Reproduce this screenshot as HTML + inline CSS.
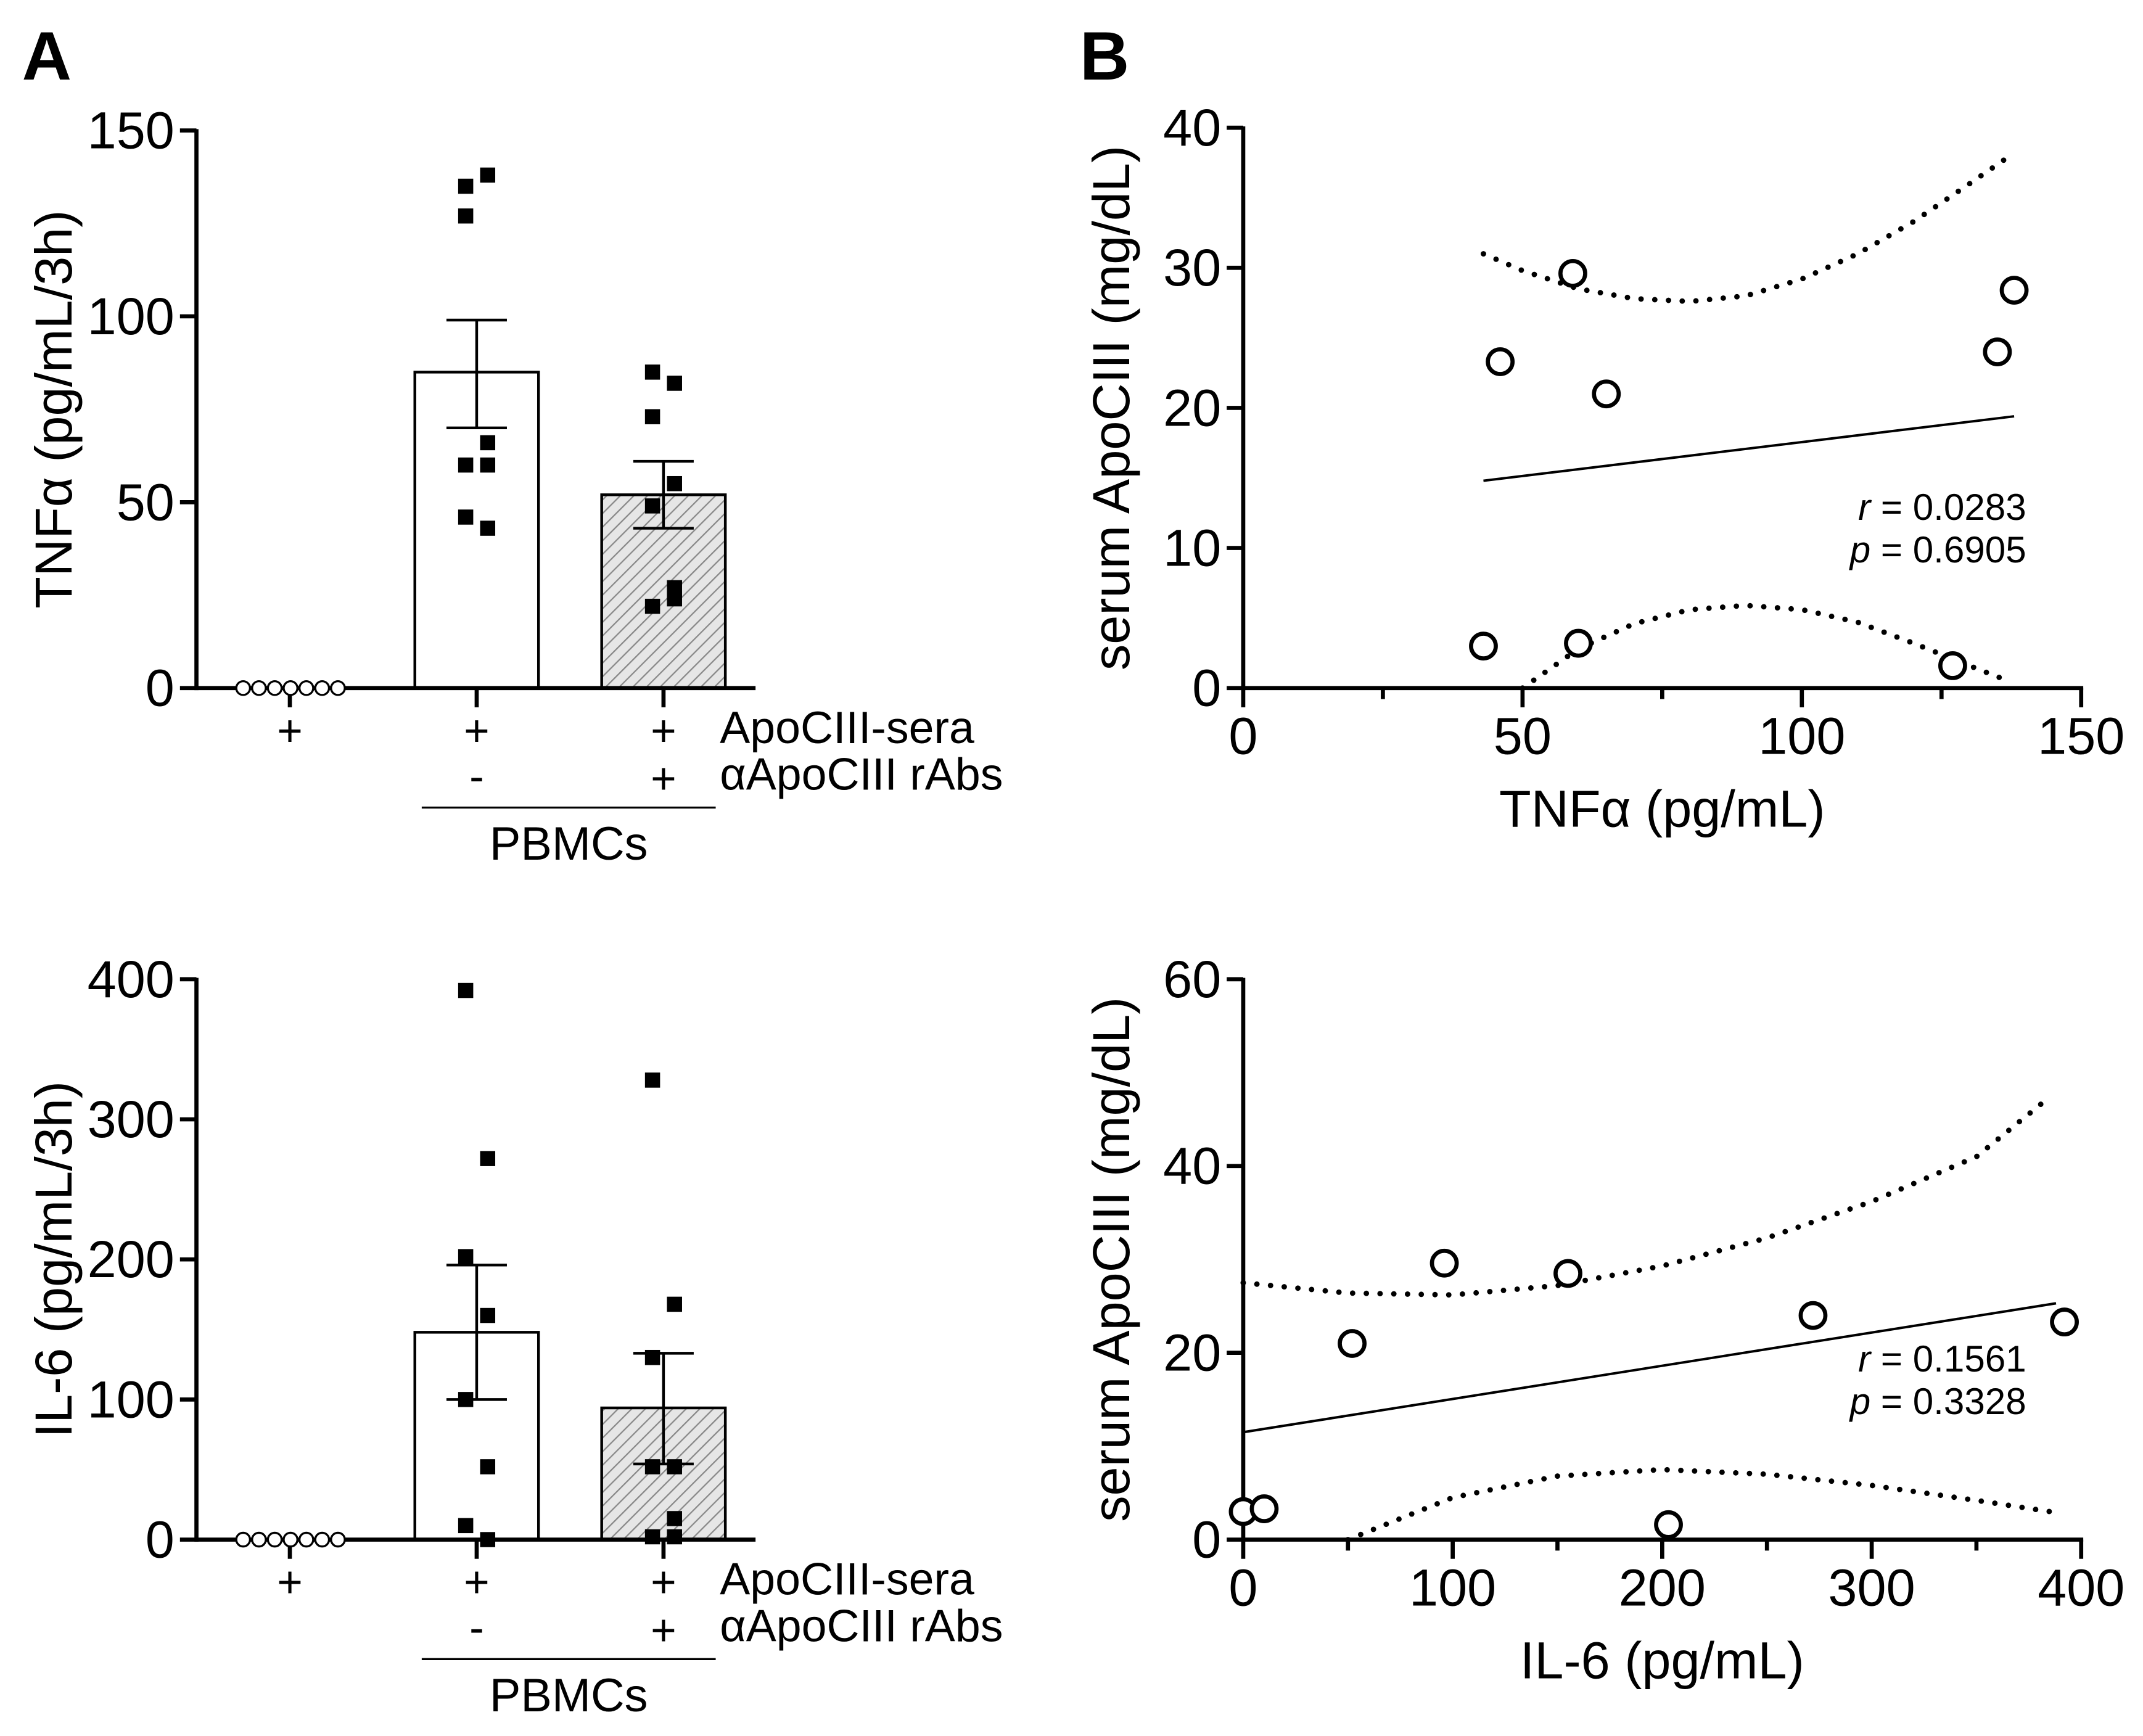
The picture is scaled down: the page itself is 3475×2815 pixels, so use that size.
<!DOCTYPE html>
<html><head><meta charset="utf-8"><style>html,body{margin:0;padding:0;background:#fff}svg{display:block}text{font-family:"Liberation Sans Narrow","Liberation Sans",sans-serif;fill:#000}</style></head>
<body>
<svg id="fig" width="3475" height="2815" viewBox="0 0 1560 1264" preserveAspectRatio="none" xmlns="http://www.w3.org/2000/svg">
<defs><pattern id="hatch" patternUnits="userSpaceOnUse" width="7" height="7" patternTransform="rotate(45)"><rect width="7" height="7" fill="#e6e6e6"/><line x1="0" y1="0" x2="0" y2="7" stroke="#888" stroke-width="2"/></pattern></defs>
</svg>
<script>
// ---- Panel A top data (TNFa) ----
const tnfMeans = [0, 85, 52];
const tnfErrLo = [0, 70, 43];
const tnfErrHi = [0, 99, 61];
const tnfPts1 = [135, 138, 127, 66, 60, 60, 46, 43];
const tnfPts2 = [85, 82, 73, 55, 49, 27, 22, 24];
const tnfTicks = [0, 50, 100, 150];
// ---- Panel A bottom data (IL-6) ----
const il6Means = [0, 148, 94];
const il6ErrLo = [0, 100, 54];
const il6ErrHi = [0, 196, 133];
const il6Pts1 = [392, 272, 202, 160, 100, 52, 10, 0];
const il6Pts2 = [328, 168, 130, 52, 52, 15, 2, 2];
const il6Ticks = [0, 100, 200, 300, 400];
// ---- Panel B top scatter ----
const sc1X = [43, 46, 59, 60, 65, 127, 135, 138];
const sc1Y = [3, 23.3, 29.6, 3.2, 21, 1.6, 24, 28.4];
const sc1Line = [[43, 14.8], [138, 19.4]];
const sc1Upper = [[43,31],[50,29.8],[60,28.5],[70,27.8],[80,27.6],[90,28],[100,29.2],[110,31],[120,33.3],[130,36],[138,38.2]];
const sc1Lower = [[50,0],[60,2.8],[70,4.6],[80,5.6],[90,5.9],[100,5.6],[110,4.7],[120,3.2],[130,1.6],[137,0.5]];
const sc1XTicks = [0, 50, 100, 150];
const sc1YTicks = [0, 10, 20, 30, 40];
// ---- Panel B bottom scatter ----
const sc2X = [0, 10, 52, 96, 155, 203, 272, 392];
const sc2Y = [3, 3.3, 21, 29.6, 28.5, 1.6, 24, 23.3];
const sc2Line = [[0, 11.5], [388, 25.3]];
const sc2Upper = [[0,27.5],[50,26.4],[100,26.2],[150,27.2],[200,29.3],[250,32.3],[300,36.2],[350,41],[385,47.4]];
const sc2Lower = [[50,0],[100,4.5],[150,6.8],[200,7.5],[250,7],[300,5.8],[350,4.2],[385,3]];
const sc2XTicks = [0, 100, 200, 300, 400];
const sc2YTicks = [0, 20, 40, 60];

const NS = "http://www.w3.org/2000/svg";
const svg = document.getElementById('fig');
function el(tag, attrs, parent, txt){const e=document.createElementNS(NS,tag);for(const k in attrs)e.setAttribute(k,attrs[k]);if(txt!==undefined)e.textContent=txt;(parent||svg).appendChild(e);return e;}

function barPanel(name, y0, yTop, maxV, ticks, means, lo, hi, p1, p2, ytitle){
  const g = el('g',{});
  
  
  const ax=143, xEnd=550;
  const Y=v=>y0-(v/maxV)*(y0-yTop);
  const cx=[211,347,483], bw=90;
  [1,2].forEach(i=>{
    const b=el('rect',{x:cx[i]-bw/2,y:Y(means[i]),width:bw,height:y0-Y(means[i]),fill:i==1?'#fff':'url(#hatch)',stroke:'#000','stroke-width':2},g);
    
    
  });
  [p1,p2].forEach((arr,k)=>{
    const c=cx[k+1];
    arr.forEach((v,j)=>{
      const off=(j%2==0?-1:1)*8;
      const r=el('rect',{x:c+off-5.5,y:Y(v)-5.5,width:11,height:11,fill:'#000'},g);
      
      
    });
  });
  [1,2].forEach(i=>{
    el('line',{x1:cx[i],x2:cx[i],y1:Y(lo[i]),y2:Y(hi[i]),stroke:'#000','stroke-width':2},g);
    el('line',{x1:cx[i]-22,x2:cx[i]+22,y1:Y(lo[i]),y2:Y(lo[i]),stroke:'#000','stroke-width':2},g);
    el('line',{x1:cx[i]-22,x2:cx[i]+22,y1:Y(hi[i]),y2:Y(hi[i]),stroke:'#000','stroke-width':2},g);
  });
  el('line',{x1:ax,x2:ax,y1:yTop-1,y2:y0+1.5,stroke:'#000','stroke-width':3},g);
  el('line',{x1:ax,x2:xEnd,y1:y0,y2:y0,stroke:'#000','stroke-width':3},g);
  ticks.forEach(t=>{
    el('line',{x1:ax-12,x2:ax,y1:Y(t),y2:Y(t),stroke:'#000','stroke-width':3},g);
    el('text',{x:ax-16,y:Y(t)+13,'text-anchor':'end','font-size':38},g,String(t));
  });
  cx.forEach(c=>el('line',{x1:c,x2:c,y1:y0,y2:y0+14,stroke:'#000','stroke-width':3},g));
  for(let j=0;j<7;j++) el('circle',{cx:177+j*11.5,cy:y0,r:5,fill:'#fff',stroke:'#000','stroke-width':1.5},g);
  el('text',{x:211,y:y0+42,'text-anchor':'middle','font-size':32},g,'+');
  el('text',{x:347,y:y0+42,'text-anchor':'middle','font-size':32},g,'+');
  el('text',{x:483,y:y0+42,'text-anchor':'middle','font-size':32},g,'+');
  el('text',{x:347,y:y0+75,'text-anchor':'middle','font-size':32},g,'-');
  el('text',{x:483,y:y0+77,'text-anchor':'middle','font-size':32},g,'+');
  el('text',{x:524,y:y0+40,'font-size':33},g,'ApoCIII-sera');
  el('text',{x:524,y:y0+74,'font-size':33},g,'\u03b1ApoCIII rAbs');
  el('line',{x1:307,x2:521,y1:y0+87,y2:y0+87,stroke:'#000','stroke-width':1.5},g);
  el('text',{x:414,y:y0+125,'text-anchor':'middle','font-size':34},g,'PBMCs');
  el('text',{x:0,y:0,'text-anchor':'middle','font-size':38,transform:`translate(52,${(y0+yTop)/2}) rotate(-90)`},g,ytitle);
}

function scatterPanel(name, y0, yTop, xMax, yMax, xt, yt, xs, ys, line, up, lowr, minorStep, rTxt, pTxt, xtitle){
  const g = el('g',{});
  
  
  const ax=905, xEnd=1515;
  const X=v=>ax+(v/xMax)*(xEnd-ax), Y=v=>y0-(v/yMax)*(y0-yTop);
  el('line',{x1:ax,x2:ax,y1:yTop-1,y2:y0+1.5,stroke:'#000','stroke-width':3},g);
  el('line',{x1:ax,x2:xEnd+1.5,y1:y0,y2:y0,stroke:'#000','stroke-width':3},g);
  yt.forEach(t=>{
    el('line',{x1:ax-12,x2:ax,y1:Y(t),y2:Y(t),stroke:'#000','stroke-width':3},g);
    el('text',{x:ax-16,y:Y(t)+13,'text-anchor':'end','font-size':38},g,String(t));
  });
  for(let v=0;v<=xMax+0.001;v+=minorStep){
    const major=xt.includes(v);
    el('line',{x1:X(v),x2:X(v),y1:y0,y2:y0+(major?14:8),stroke:'#000','stroke-width':3},g);
  }
  xt.forEach(t=>el('text',{x:X(t),y:y0+48,'text-anchor':'middle','font-size':38},g,String(t)));
  const pts=a=>a.map(p=>X(p[0])+','+Y(p[1])).join(' ');
  const ul=el('polyline',{points:pts(up),fill:'none',stroke:'#000','stroke-width':4,'stroke-dasharray':'0 10','stroke-linecap':'round'},g);
  
  
  const ll=el('polyline',{points:pts(lowr),fill:'none',stroke:'#000','stroke-width':4,'stroke-dasharray':'0 10','stroke-linecap':'round'},g);
  
  
  const rl=el('polyline',{points:pts(line),fill:'none',stroke:'#000','stroke-width':1.8},g);
  
  
  xs.forEach((v,i)=>{
    const c=el('circle',{cx:X(v),cy:Y(ys[i]),r:9,fill:'#fff',stroke:'#000','stroke-width':3},g);
    
    
  });
  const st=el('text',{x:1475,y:Y(yMax*0.3)+0,'text-anchor':'end','font-size':27},g);
  el('tspan',{'font-style':'italic'},st,'r');el('tspan',{},st,' = '+rTxt);
  const st2=el('text',{x:1475,y:Y(yMax*0.3)+31,'text-anchor':'end','font-size':27},g);
  el('tspan',{'font-style':'italic'},st2,'p');el('tspan',{},st2,' = '+pTxt);
  el('text',{x:1210,y:y0+101,'text-anchor':'middle','font-size':38},g,xtitle);
  el('text',{x:0,y:0,'text-anchor':'middle','font-size':38,transform:`translate(822,${(y0+yTop)/2}) rotate(-90)`},g,'serum ApoCIII (mg/dL)');
}

const A=el('text',{x:16,y:58,'font-size':50,'font-weight':'bold','font-family':'Liberation Sans, sans-serif'},svg,'A');

const B=el('text',{x:786,y:58,'font-size':50,'font-weight':'bold','font-family':'Liberation Sans, sans-serif'},svg,'B');


barPanel('tnf-bar-chart',501,95,150,tnfTicks,tnfMeans,tnfErrLo,tnfErrHi,tnfPts1,tnfPts2,'TNF\u03b1 (pg/mL/3h)');
barPanel('il6-bar-chart',1121,713,400,il6Ticks,il6Means,il6ErrLo,il6ErrHi,il6Pts1,il6Pts2,'IL-6 (pg/mL/3h)');
scatterPanel('tnf-scatter',501,93,150,40,sc1XTicks,sc1YTicks,sc1X,sc1Y,sc1Line,sc1Upper,sc1Lower,25,'0.0283','0.6905','TNF\u03b1 (pg/mL)');
scatterPanel('il6-scatter',1121,713,400,60,sc2XTicks,sc2YTicks,sc2X,sc2Y,sc2Line,sc2Upper,sc2Lower,50,'0.1561','0.3328','IL-6 (pg/mL)');
</script>
</body></html>
